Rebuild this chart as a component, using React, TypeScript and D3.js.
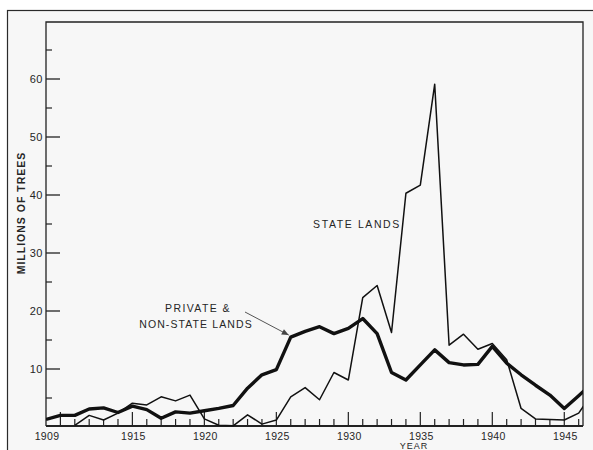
import React from "react";
import * as d3 from "d3";

const years = [1909,1910,1911,1912,1913,1914,1915,1916,1917,1918,1919,1920,1921,1922,1923,1924,1925,1926,1927,1928,1929,1930,1931,1932,1933,1934,1935,1936,1937,1938,1939,1940,1941,1942,1943,1944,1945,1946,1947];
const privateLands = [1.3,2.0,2.0,3.1,3.3,2.5,3.6,3.0,1.5,2.6,2.4,2.8,3.2,3.7,6.7,9.0,9.9,15.5,16.5,17.3,16.1,17.0,18.7,16.1,9.4,8.1,10.7,13.3,11.1,10.7,10.8,13.9,11.0,9.0,7.2,5.5,3.2,5.4,7.6];
const stateLands = [null,null,0.3,2.0,1.2,2.4,4.1,3.8,5.2,4.5,5.5,1.4,0.3,0.2,2.1,0.5,1.2,5.2,6.8,4.7,9.4,8.1,22.3,24.4,16.3,40.3,41.7,59.1,14.1,16.0,13.4,14.4,11.6,3.2,1.4,1.3,1.2,2.4,6.0];
const yMajorTicks = [10,20,30,40,50,60];
const yMinorTicks = [5,15,25,35,45,55,65];
const xLabelYears = [1909,1915,1920,1925,1930,1935,1940,1945];

const W = 593, H = 450;
const L = 46, R = 583, T = 22, B = 426;
const FONT = "'Liberation Sans', Arial, sans-serif";
const TEXT = "#262626";

export default function App() {
  const x = d3.scaleLinear().domain([1909, 1946.3]).range([L, R]);
  const y = d3.scaleLinear().domain([0, 65]).range([427, 50]);

  const lineGen = d3.line<[number, number | null]>()
    .defined(d => d[1] !== null)
    .x(d => x(d[0]))
    .y(d => y(d[1] as number));

  const privPts: [number, number | null][] = years.map((yr, i) => [yr, privateLands[i]]);
  const statePts: [number, number | null][] = years.map((yr, i) => [yr, stateLands[i]]);

  const tickYears = d3.range(1910, 1947);
  const i1926 = years.indexOf(1926);
  const arrowEnd = [x(1926) - 2, y(privateLands[i1926]) - 2];
  const arrowStart = [245, 312];
  const ang = Math.atan2(arrowEnd[1] - arrowStart[1], arrowEnd[0] - arrowStart[0]);
  const ah = 7, aw = 3;
  const p1 = [arrowEnd[0] - ah * Math.cos(ang) + aw * Math.sin(ang), arrowEnd[1] - ah * Math.sin(ang) - aw * Math.cos(ang)];
  const p2 = [arrowEnd[0] - ah * Math.cos(ang) - aw * Math.sin(ang), arrowEnd[1] - ah * Math.sin(ang) + aw * Math.cos(ang)];

  return (
    <svg width={W} height={H} style={{ position: "absolute", left: 0, top: 0, background: "#fff" }}>
      <defs>
        <clipPath id="plotclip">
          <rect x={L} y={T} width={R - L} height={430 - T} />
        </clipPath>
      </defs>
      {/* outer sheet */}
      <rect x={7.5} y={10.5} width={W} height={H} fill="#f7f7f7" stroke="#2a2a2a" strokeWidth={1.2} />
      {/* plot frame */}
      <path d={`M${L},${B} L${L},${T} L${R},${T} L${R},${B}`} fill="none" stroke="#222" strokeWidth={1.3} />
      <line x1={L} x2={R} y1={B} y2={B} stroke="#222" strokeWidth={2} />

      {/* y ticks */}
      {yMajorTicks.map(v => (
        <g key={"ym" + v}>
          <line x1={L} x2={L + 14} y1={y(v)} y2={y(v)} stroke="#222" strokeWidth={1.3} />
          <text x={43} y={y(v) + 4} textAnchor="end" fontFamily={FONT} fontSize={11} fill={TEXT} letterSpacing={0.5}>{v}</text>
        </g>
      ))}
      {yMinorTicks.map(v => (
        <line key={"yn" + v} x1={L} x2={L + 6} y1={y(v)} y2={y(v)} stroke="#222" strokeWidth={1.2} />
      ))}

      {/* x ticks */}
      {tickYears.map(yr => (
        <line key={"xt" + yr} x1={x(yr)} x2={x(yr)} y1={B} y2={B - (yr % 5 === 0 ? 14 : 7)} stroke="#222" strokeWidth={1.2} />
      ))}
      {xLabelYears.map(yr => (
        <text key={"xl" + yr} x={x(yr) + 1} y={440} textAnchor="middle" fontFamily={FONT} fontSize={10.5} fill={TEXT} letterSpacing={0.3}>{yr}</text>
      ))}

      {/* axis titles */}
      <text transform="translate(25,213) rotate(-90)" textAnchor="middle" fontFamily={FONT} fontSize={10.5} fontWeight="bold" fill={TEXT} letterSpacing={1}>MILLIONS OF TREES</text>
      <text x={414} y={449} textAnchor="middle" fontFamily={FONT} fontSize={9} fill={TEXT} letterSpacing={1}>YEAR</text>

      {/* lines */}
      <g clipPath="url(#plotclip)">
        <path d={lineGen(statePts) || ""} fill="none" stroke="#111" strokeWidth={1.5} strokeLinejoin="round" />
        <path d={lineGen(privPts) || ""} fill="none" stroke="#111" strokeWidth={3.4} strokeLinejoin="round" />
      </g>

      {/* annotations */}
      <text x={357} y={228} textAnchor="middle" fontFamily={FONT} fontSize={10.5} fill={TEXT} letterSpacing={1.6}>STATE LANDS</text>
      <text x={198} y={312} textAnchor="middle" fontFamily={FONT} fontSize={10.5} fill={TEXT} letterSpacing={1.4}>PRIVATE &amp;</text>
      <text x={196} y={328} textAnchor="middle" fontFamily={FONT} fontSize={10.5} fill={TEXT} letterSpacing={1.1}>NON-STATE LANDS</text>
      <line x1={arrowStart[0]} y1={arrowStart[1]} x2={arrowEnd[0]} y2={arrowEnd[1]} stroke="#555" strokeWidth={1} />
      <path d={`M${arrowEnd[0]},${arrowEnd[1]} L${p1[0]},${p1[1]} L${p2[0]},${p2[1]} Z`} fill="#444" />
    </svg>
  );
}
